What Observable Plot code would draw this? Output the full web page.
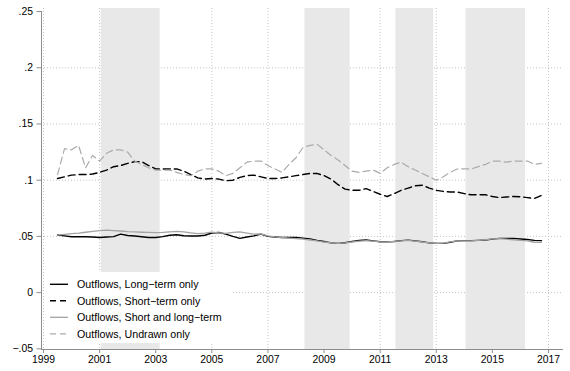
<!DOCTYPE html>
<html>
<head>
<meta charset="utf-8">
<script src="https://cdn.jsdelivr.net/npm/d3@7"></script>
<script src="https://cdn.jsdelivr.net/npm/@observablehq/plot@0.6"></script>
<style>
  html, body { margin: 0; padding: 0; background: #fff; }
  #chart { width: 570px; height: 371px; }
  #chart svg { font-family: "Liberation Sans", Arial, Helvetica, sans-serif; }
</style>
</head>
<body>
<div id="chart"></div>
<script>
// Quarterly observations, 1999q3 through 2016q4
const firstQuarter = 1999.5;

const longTermOnly = [
  .0512, .0505, .0497, .0497, .0497, .0495, .0490, .0495, .0498, .0520,
  .0508, .0503, .0497, .0490, .0490, .0498, .0510, .0515, .0506, .0503,
  .0503, .0510, .0530, .0535, .0520, .0500, .0482, .0495, .0505, .0520,
  .0500, .0495, .0490, .0490, .0490, .0485, .0478, .0465, .0455, .0442,
  .0438, .0444, .0455, .0463, .0468, .0460, .0453, .0453, .0455, .0462,
  .0467, .0460, .0452, .0442, .0438, .0438, .0448, .0460, .0462, .0462,
  .0465, .0468, .0476, .0482, .0482, .0482, .0477, .0472, .0465, .0462
];

const shortTermOnly = [
  .1015, .1030, .1045, .1050, .1050, .1055, .1070, .1090, .1120, .1130,
  .1150, .1165, .1165, .1130, .1100, .1100, .1100, .1100, .1080, .1050,
  .1020, .1010, .1015, .1010, .0995, .1000, .1025, .1040, .1045, .1030,
  .1015, .1015, .1020, .1030, .1040, .1050, .1060, .1060, .1040, .1010,
  .0960, .0920, .0910, .0910, .0925, .0900, .0875, .0855, .0880, .0910,
  .0930, .0950, .0955, .0930, .0910, .0900, .0895, .0895, .0880, .0870,
  .0870, .0870, .0855, .0845, .0850, .0855, .0853, .0845, .0838, .0865
];

const shortAndLongTerm = [
  .0512, .0518, .0525, .0530, .0537, .0545, .0552, .0555, .0552, .0548,
  .0543, .0540, .0537, .0535, .0533, .0535, .0540, .0545, .0540, .0532,
  .0525, .0530, .0538, .0532, .0527, .0535, .0540, .0530, .0520, .0522,
  .0505, .0495, .0490, .0485, .0480, .0475, .0468, .0460, .0450, .0442,
  .0438, .0442, .0450, .0458, .0462, .0458, .0452, .0450, .0455, .0460,
  .0465, .0458, .0450, .0442, .0438, .0440, .0452, .0460, .0460, .0460,
  .0465, .0470, .0478, .0480, .0475, .0470, .0465, .0460, .0448, .0446
];

const undrawnOnly = [
  .1050, .1280, .1270, .1310, .1110, .1220, .1170, .1240, .1270, .1270,
  .1250, .1170, .1140, .1110, .1090, .1090, .1090, .1070, .1050, .1040,
  .1080, .1100, .1100, .1080, .1040, .1060, .1110, .1160, .1170, .1170,
  .1130, .1100, .1070, .1140, .1200, .1290, .1310, .1320, .1270, .1220,
  .1180, .1130, .1080, .1070, .1080, .1090, .1060, .1110, .1140, .1160,
  .1120, .1090, .1060, .1030, .1000, .1030, .1070, .1100, .1100, .1100,
  .1120, .1140, .1170, .1170, .1160, .1170, .1170, .1170, .1140, .1150
];

// Shaded periods (decimal years)
const shadeStart = [2001.06, 2008.32, 2011.56, 2014.06];
const shadeEnd   = [2003.16, 2009.93, 2012.91, 2016.18];

const yearTicks = [1999, 2001, 2003, 2005, 2007, 2009, 2011, 2013, 2015, 2017];
const yTicks = [-0.05, 0, 0.05, 0.1, 0.15, 0.2, 0.25];
const yGrid = [0, 0.05, 0.1, 0.15, 0.2];

const seriesNames = [
  "Outflows, Long\u2212term only",
  "Outflows, Short\u2212term only",
  "Outflows, Short and long\u2212term",
  "Outflows, Undrawn only"
];
const seriesValues = [longTermOnly, shortTermOnly, shortAndLongTerm, undrawnOnly];
const seriesStroke = ["#000000", "#000000", "#a3a3a3", "#ababab"];
const seriesDash = [null, "7,4", null, "7,4"];
const seriesWidth = [1.4, 1.4, 1.3, 1.2];

const rows = [];
seriesValues.forEach((vals, s) => {
  vals.forEach((v, i) => rows.push({series: s, t: firstQuarter + i / 4, v}));
});
const shades = shadeStart.map((s, i) => ({start: s, end: shadeEnd[i]}));

const xDomain = [1998.929, 2017.535];
const yDomain = [-0.0506, 0.2527];

const fmtY = v => v === 0 ? "0" : (v < 0 ? "\u2212" : "") + String(Math.abs(v)).replace(/^0/, "");

const axisColor = "#8c8c8c";
const gridStyle = {stroke: "#c4c4c4", strokeOpacity: 1, strokeDasharray: "1,2", strokeWidth: 1};

const chart = Plot.plot({
  width: 570,
  height: 371,
  marginLeft: 41,
  marginRight: 7,
  marginTop: 8,
  marginBottom: 22,
  style: {background: "#fff", color: "#000", fontSize: "10.4px", fontFamily: "\"Liberation Sans\", Arial, Helvetica, sans-serif"},
  x: {domain: xDomain},
  y: {domain: yDomain},
  marks: [
    Plot.gridX(yearTicks, gridStyle),
    Plot.gridY(yGrid, gridStyle),
    Plot.rect(shades, {x1: "start", x2: "end", fill: "#e8e8e8"}),
    ...seriesValues.map((_, s) =>
      Plot.line(rows.filter(d => d.series === s), {
        x: "t", y: "v",
        stroke: seriesStroke[s],
        strokeWidth: seriesWidth[s],
        strokeDasharray: seriesDash[s],
        curve: "linear"
      })
    ),
    Plot.ruleY([yDomain[0]], {stroke: axisColor, strokeWidth: 1}),
    Plot.ruleX([xDomain[0]], {y1: yDomain[0], y2: 0.25, stroke: axisColor, strokeWidth: 1}),
    Plot.axisX({ticks: yearTicks, tickFormat: d => String(d), tickSize: 4, tickPadding: 2.5, stroke: axisColor, fill: "#000", label: null}),
    Plot.axisY({ticks: yTicks, tickFormat: fmtY, tickSize: 4.5, tickPadding: 4, stroke: axisColor, fill: "#000", label: null})
  ]
});

// Legend placed inside the lower-left corner of the plot area
const svg = d3.select(chart);
const legend = svg.append("g").attr("class", "legend").attr("text-anchor", "start");
legend.append("rect")
  .attr("x", 44).attr("y", 272).attr("width", 187).attr("height", 71)
  .attr("fill", "#fff");
seriesNames.forEach((name, s) => {
  const cy = 284.3 + s * 16.5;
  legend.append("line")
    .attr("x1", 50).attr("x2", 68).attr("y1", cy).attr("y2", cy)
    .attr("stroke", seriesStroke[s])
    .attr("stroke-width", seriesWidth[s])
    .attr("stroke-dasharray", seriesDash[s] ? "6,4" : null);
  legend.append("text")
    .attr("x", 77).attr("y", cy)
    .attr("dy", "0.35em")
    .attr("text-anchor", "start")
    .attr("font-size", "10.7px")
    .attr("fill", "#000")
    .text(name);
});

document.getElementById("chart").appendChild(chart);
</script>
</body>
</html>
